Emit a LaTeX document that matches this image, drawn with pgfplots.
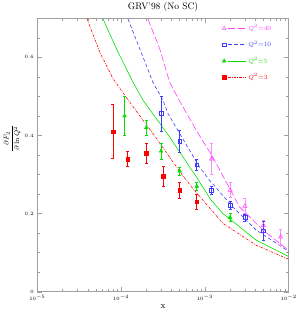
\documentclass[border=0pt]{standalone}
\usepackage{pgfplots}
\pgfplotsset{compat=1.18}
\definecolor{cR}{RGB}{255,0,0}
\definecolor{cG}{RGB}{0,225,0}
\definecolor{cB}{RGB}{60,60,255}
\definecolor{cM}{RGB}{255,60,255}
\definecolor{cMl}{RGB}{255,140,255}
\begin{document}
\begin{tikzpicture}
\path[use as bounding box] (-37.3bp,-35.3bp) rectangle (267.7bp,291.7bp);
\begin{axis}[
  at={(0,0)}, anchor=south west,
  scale only axis, width=251.4bp, height=273.4bp,
  xmode=log, xmin=1e-5, xmax=1e-2, ymin=0, ymax=0.7,
  ytick={0,0.2,0.4,0.6},
  minor ytick={0.05,0.1,0.15,0.25,0.3,0.35,0.45,0.5,0.55,0.65},
  yticklabel style={/pgf/number format/fixed},
  tick align=inside,
  major tick length=4.5bp, minor tick length=2.5bp,
  axis line style={gray!75, line width=0.5pt},
  every tick/.style={gray!75, line width=0.4pt},
  tick label style={font=\fontsize{5.5}{6}\selectfont},
  title={GRV'98 (No SC)},
  title style={font=\fontsize{9.5}{11}\selectfont, yshift=-3bp},
  xlabel={x},
  xlabel style={font=\fontsize{9}{10}\selectfont, yshift=3bp},
  ylabel={$\displaystyle\frac{\partial F_2}{\partial \ln Q^2}$},
  ylabel style={font=\fontsize{7.5}{9}\selectfont, at={(axis description cs:-0.1,0.56)}, anchor=center},
  legend style={at={(0.735,0.985)}, anchor=north west, draw=none, fill=none,
    font=\fontsize{6.5}{7}\selectfont, row sep=5.2bp, inner sep=0pt},
  legend cell align=left,
  clip=true,
  unbounded coords=jump,
]
% ---- theory curves ----
\addplot[cM, line width=0.6pt, dash pattern=on 7bp off 2.5bp, forget plot] coordinates {
(2.09e-4,0.698) (2.89e-4,0.622) (3.80e-4,0.536) (5.0e-4,0.488) (7.9e-4,0.413)
(1.24e-3,0.345) (2.59e-3,0.217) (4.9e-3,0.158) (1e-2,0.106)};
\addplot[cB, line width=0.6pt, dash pattern=on 3.5bp off 2.5bp, forget plot] coordinates {
(1.21e-4,0.698) (1.67e-4,0.622) (2.40e-4,0.536) (3.16e-4,0.490) (3.63e-4,0.456)
(5.0e-4,0.405) (8.65e-4,0.319) (1.14e-3,0.285) (2.15e-3,0.217) (4.09e-3,0.158) (1e-2,0.103)};
\addplot[cG, line width=0.6pt, forget plot] coordinates {
(6.1e-5,0.698) (8.8e-5,0.622) (1.39e-4,0.536) (1.83e-4,0.490) (3.8e-4,0.396)
(7.9e-4,0.294) (1.19e-3,0.234) (1.64e-3,0.200) (4.09e-3,0.132) (1e-2,0.090)};
\addplot[cR, line width=0.6pt, dash pattern=on 2.5bp off 1.2bp on 0.6bp off 1.2bp, forget plot] coordinates {
(3.94e-5,0.698) (5.57e-5,0.613) (8.03e-5,0.545) (1.27e-4,0.485) (2.40e-4,0.405)
(5.24e-4,0.302) (7.2e-4,0.264) (1.64e-3,0.175) (4.09e-3,0.119) (1e-2,0.083)};
% ---- error bars (low, high) ----
\addplot[cMl, line width=0.6pt, mark=-, mark size=1.5bp, mark options={solid}, forget plot] coordinates {
(1.2e-3,0.300) (1.2e-3,0.380) (1.2e-3,nan)
(2e-3,0.241) (2e-3,0.279) (2e-3,nan)
(3e-3,0.200) (3e-3,0.238) (3e-3,nan)
(5e-3,0.158) (5e-3,0.182) (5e-3,nan)
(8e-3,0.119) (8e-3,0.161)};
\addplot[cB, line width=0.6pt, mark=-, mark size=1.5bp, mark options={solid}, forget plot] coordinates {
(3e-4,0.411) (3e-4,0.501) (3e-4,nan)
(5e-4,0.358) (5e-4,0.412) (5e-4,nan)
(8e-4,0.311) (8e-4,0.339) (8e-4,nan)
(1.2e-3,0.250) (1.2e-3,0.270) (1.2e-3,nan)
(2e-3,0.211) (2e-3,0.231) (2e-3,nan)
(3e-3,0.181) (3e-3,0.199) (3e-3,nan)
(5e-3,0.132) (5e-3,0.180)};
\addplot[cG, line width=0.6pt, mark=-, mark size=1.5bp, mark options={solid}, forget plot] coordinates {
(1.1e-4,0.400) (1.1e-4,0.500) (1.1e-4,nan)
(2e-4,0.400) (2e-4,0.440) (2e-4,nan)
(3e-4,0.340) (3e-4,0.380) (3e-4,nan)
(5e-4,0.299) (5e-4,0.319) (5e-4,nan)
(8e-4,0.260) (8e-4,0.280) (8e-4,nan)
(2e-3,0.180) (2e-3,0.200)};
\addplot[cR, line width=0.6pt, mark=-, mark size=1.5bp, mark options={solid}, forget plot] coordinates {
(8e-5,0.341) (8e-5,0.479) (8e-5,nan)
(1.2e-4,0.320) (1.2e-4,0.360) (1.2e-4,nan)
(2e-4,0.330) (2e-4,0.380) (2e-4,nan)
(3.2e-4,0.270) (3.2e-4,0.320) (3.2e-4,nan)
(5e-4,0.240) (5e-4,0.280) (5e-4,nan)
(8e-4,0.210) (8e-4,0.250)};
% ---- data points ----
\addplot[color=cM, only marks, mark=triangle, mark size=2.4bp, mark options={solid, line width=0.5pt},
  legend image code/.code={\draw[cM, line width=0.6pt, dash pattern=on 7bp off 2.5bp] (4bp,0bp) -- (22bp,0bp); \draw[cM, mark=triangle, mark size=2.2bp, mark options={solid}] plot coordinates {(0bp,0bp)};}]
  coordinates {(1.2e-3,0.340) (2e-3,0.260) (3e-3,0.219) (5e-3,0.170) (8e-3,0.140)};
\addlegendentry{\textcolor{cM}{$Q^2$=40}}
\addplot[color=cB, only marks, mark=square, mark size=1.9bp, mark options={solid, line width=0.5pt},
  legend image code/.code={\draw[cB, line width=0.6pt, dash pattern=on 3.5bp off 2.5bp] (4bp,0bp) -- (22bp,0bp); \draw[cB, mark=square, mark size=1.8bp, mark options={solid}] plot coordinates {(0bp,0bp)};}]
  coordinates {(3e-4,0.456) (5e-4,0.385) (8e-4,0.325) (1.2e-3,0.260) (2e-3,0.221) (3e-3,0.190) (5e-3,0.156)};
\addlegendentry{\textcolor{cB}{$Q^2$=10}}
\addplot[color=cG, only marks, mark=triangle*, mark size=2.2bp, mark options={solid},
  legend image code/.code={\draw[cG, line width=0.6pt] (4bp,0bp) -- (22bp,0bp); \draw[cG, mark=triangle*, mark size=2.2bp] plot coordinates {(0bp,0bp)};}]
  coordinates {(1.1e-4,0.450) (2e-4,0.420) (3e-4,0.360) (5e-4,0.309) (8e-4,0.270) (2e-3,0.190)};
\addlegendentry{\textcolor{cG}{$Q^2$=5}}
\addplot[color=cR, only marks, mark=square*, mark size=1.8bp, mark options={solid},
  legend image code/.code={\draw[cR, line width=0.6pt, dash pattern=on 2.5bp off 1.2bp on 0.6bp off 1.2bp] (4bp,0bp) -- (22bp,0bp); \draw[cR, mark=square*, mark size=1.8bp] plot coordinates {(0bp,0bp)};}]
  coordinates {(8e-5,0.410) (1.2e-4,0.340) (2e-4,0.355) (3.2e-4,0.295) (5e-4,0.260) (8e-4,0.230)};
\addlegendentry{\textcolor{cR}{$Q^2$=3}}
\end{axis}
\end{tikzpicture}
\end{document}
